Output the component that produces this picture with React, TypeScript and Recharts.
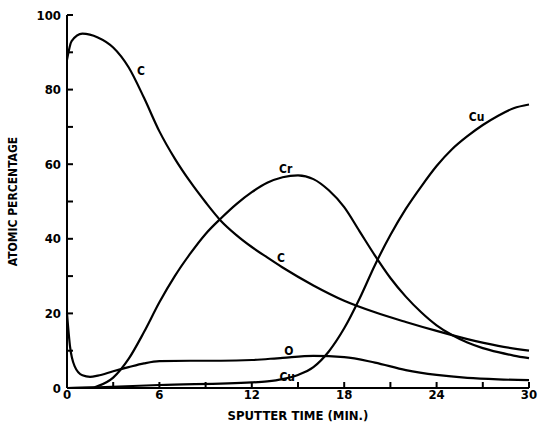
import React from 'react';
import { LineChart, Line, XAxis, YAxis, ReferenceDot } from 'recharts';

// sputter time (min) / atomic percentage
const cData = [
  { t: 0, v: 88 }, { t: 0.3, v: 93 }, { t: 1, v: 95 }, { t: 2, v: 94 }, { t: 3, v: 91.3 },
  { t: 4, v: 86 }, { t: 5, v: 77.8 }, { t: 6, v: 68.8 }, { t: 7, v: 61.5 }, { t: 8, v: 55.3 },
  { t: 9, v: 49.8 }, { t: 10, v: 44.8 }, { t: 11, v: 41 }, { t: 12, v: 37.8 }, { t: 13, v: 35 },
  { t: 14, v: 32.3 }, { t: 16, v: 27.5 }, { t: 18, v: 23.4 }, { t: 20, v: 20.3 }, { t: 22, v: 17.7 },
  { t: 24, v: 15.3 }, { t: 26, v: 13.1 }, { t: 28, v: 11.3 }, { t: 30, v: 10 },
];

const crData = [
  { t: 0, v: 0 }, { t: 1.7, v: 0.1 }, { t: 2, v: 0.5 }, { t: 3, v: 2.8 }, { t: 4, v: 7.8 },
  { t: 5, v: 15 }, { t: 6, v: 23 }, { t: 7, v: 30 }, { t: 8, v: 36 }, { t: 9, v: 41.3 },
  { t: 10, v: 45.5 }, { t: 11, v: 49.3 }, { t: 12, v: 52.5 }, { t: 13, v: 55 }, { t: 14, v: 56.5 },
  { t: 15, v: 57 }, { t: 16, v: 56 }, { t: 17, v: 53 }, { t: 18, v: 48.5 }, { t: 19, v: 42 },
  { t: 20, v: 35.5 }, { t: 21, v: 29.5 }, { t: 22, v: 24.5 }, { t: 23, v: 20.3 }, { t: 24, v: 16.8 },
  { t: 25, v: 14.2 }, { t: 26, v: 12.2 }, { t: 27, v: 10.7 }, { t: 28, v: 9.6 }, { t: 29, v: 8.7 },
  { t: 30, v: 8 },
];

const cuData = [
  { t: 0, v: 0 }, { t: 2, v: 0.2 }, { t: 6, v: 0.8 }, { t: 12, v: 1.5 }, { t: 13, v: 1.8 },
  { t: 14, v: 2.4 }, { t: 15, v: 3.5 }, { t: 16, v: 5.6 }, { t: 17, v: 9.8 }, { t: 18, v: 16 },
  { t: 19, v: 24 }, { t: 20, v: 33 }, { t: 21, v: 41 }, { t: 22, v: 48 }, { t: 23, v: 54 },
  { t: 24, v: 59.5 }, { t: 25, v: 64 }, { t: 26, v: 67.5 }, { t: 27, v: 70.5 }, { t: 28, v: 73 },
  { t: 29, v: 75 }, { t: 30, v: 76 },
];

const oData = [
  { t: 0, v: 20 }, { t: 0.2, v: 11 }, { t: 0.5, v: 5.8 }, { t: 1, v: 3.4 }, { t: 1.5, v: 3 },
  { t: 2, v: 3.3 }, { t: 3, v: 4.5 }, { t: 4, v: 5.6 }, { t: 5, v: 6.6 }, { t: 6, v: 7.2 },
  { t: 8, v: 7.3 }, { t: 10, v: 7.3 }, { t: 12, v: 7.5 }, { t: 14, v: 8.1 }, { t: 16, v: 8.6 },
  { t: 18, v: 8.3 }, { t: 20, v: 6.8 }, { t: 22, v: 4.8 }, { t: 24, v: 3.5 }, { t: 26, v: 2.7 },
  { t: 28, v: 2.3 }, { t: 30, v: 2.1 },
];

const xTicks = [0, 3, 6, 9, 12, 15, 18, 21, 24, 27, 30];
const xLabels = [0, 6, 12, 18, 24, 30];
const yTicks = [0, 10, 20, 30, 40, 50, 60, 70, 80, 90, 100];
const yLabels = [0, 20, 40, 60, 80, 100];

const curveLabels = [
  { name: 'C', t: 4.8, v: 85 },
  { name: 'C', t: 13.9, v: 35 },
  { name: 'Cr', t: 14.2, v: 58.8 },
  { name: 'Cu', t: 26.6, v: 72.7 },
  { name: 'Cu', t: 14.3, v: 2.9 },
  { name: 'O', t: 14.4, v: 10 },
];

const font = '"Liberation Sans Narrow", "DejaVu Sans Condensed", Arial, sans-serif';
const tickStyle = { fill: '#000', fontSize: 13, fontWeight: 'bold' as const, fontFamily: font };

const App: React.FC = () => {
  const series = [cData, crData, cuData, oData];

  return (
    <div style={{ position: 'absolute', left: 0, top: 0, background: '#fff' }}>
      <LineChart width={540} height={431} margin={{ top: 15, right: 11, bottom: 13, left: 27 }}>
        <XAxis
          dataKey="t"
          type="number"
          domain={[0, 30]}
          ticks={xTicks}
          interval={0}
          tickFormatter={(v: number) => (xLabels.includes(v) ? String(v) : '')}
          tickSize={-6}
          tickMargin={8}
          height={30}
          stroke="#000"
          strokeWidth={2}
          tick={tickStyle}
          label={{ value: 'SPUTTER TIME (MIN.)', position: 'insideBottom', offset: -2, style: { ...tickStyle, fontSize: 13 } }}
        />
        <XAxis
          xAxisId="top"
          orientation="top"
          type="number"
          domain={[0, 30]}
          ticks={xTicks}
          interval={0}
          tickFormatter={() => ''}
          tickSize={-6}
          height={0}
          stroke="#000"
          strokeWidth={2}
        />
        <YAxis
          type="number"
          domain={[0, 100]}
          ticks={yTicks}
          interval={0}
          tickFormatter={(v: number) => (yLabels.includes(v) ? String(v) : '')}
          tickSize={-6}
          tickMargin={12}
          width={40}
          stroke="#000"
          strokeWidth={2}
          tick={tickStyle}
          label={{ value: 'ATOMIC PERCENTAGE', angle: -90, position: 'insideLeft', offset: -14, style: { ...tickStyle, fontSize: 12, textAnchor: 'middle' } }}
        />
        <YAxis
          yAxisId="right"
          orientation="right"
          type="number"
          domain={[0, 100]}
          ticks={yTicks}
          interval={0}
          tickFormatter={() => ''}
          tickSize={-6}
          width={0}
          stroke="#000"
          strokeWidth={2}
        />
        {series.map((d, i) => (
          <Line
            key={i}
            data={d}
            dataKey="v"
            type="monotone"
            stroke="#000"
            strokeWidth={2.2}
            dot={false}
            isAnimationActive={false}
          />
        ))}
        {curveLabels.map((l, i) => (
          <ReferenceDot
            key={'l' + i}
            x={l.t}
            y={l.v}
            r={0}
            fill="none"
            stroke="none"
            label={{ value: l.name, position: 'center', style: { ...tickStyle, fontSize: 12 } }}
          />
        ))}
      </LineChart>
    </div>
  );
};

export default App;
